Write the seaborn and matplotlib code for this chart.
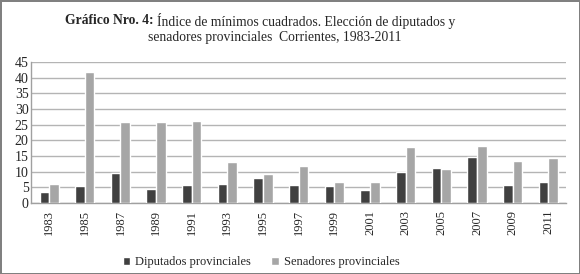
import numpy as np
import pandas as pd
import seaborn as sns
import matplotlib.pyplot as plt

years = ['1983', '1985', '1987', '1989', '1991', '1993', '1995', '1997',
         '1999', '2001', '2003', '2005', '2007', '2009', '2011']
diputados = [3.5, 5.3, 9.6, 4.6, 5.6, 6.2, 7.9, 5.9, 5.4, 4.3, 9.8, 11.3, 14.7, 5.6, 6.6]
senadores = [6.1, 41.8, 25.8, 25.8, 26.3, 13.2, 9.1, 11.7, 6.8, 6.6, 18.0, 10.7, 18.2, 13.5, 14.3]
series = ['Diputados provinciales', 'Senadores provinciales']

df = pd.DataFrame({'year': years * 2,
                   'value': diputados + senadores,
                   'serie': [series[0]] * len(years) + [series[1]] * len(years)})

sns.set_theme(style='white')
plt.rcParams['font.family'] = ['Liberation Serif', 'DejaVu Serif']

fig = plt.figure(figsize=(5.8, 2.74), dpi=100)
fig.patch.set_edgecolor('#808080')
fig.patch.set_linewidth(2)
ax = fig.add_axes([0.054, 0.259, 0.922, 0.515])

sns.barplot(data=df, x='year', y='value', hue='serie', palette=['#404040', '#a6a6a6'],
            width=0.54, gap=0, saturation=1, ax=ax, zorder=3)

ax.set_ylim(0, 45)
ax.set_yticks(range(0, 46, 5))
ax.set_xlim(-0.5, len(years) - 0.5)
ax.grid(axis='y', color='#b4b4b4', linewidth=1, zorder=0)
ax.set_xlabel('')
ax.set_ylabel('')
for s in ['top', 'right']:
    ax.spines[s].set_visible(False)
for s in ['left', 'bottom']:
    ax.spines[s].set_color('#a0a0a0')
    ax.spines[s].set_linewidth(1)
ax.tick_params(axis='x', rotation=90, labelsize=9, pad=5, length=0)
ax.tick_params(axis='y', labelsize=10, pad=2, length=0)

ax.legend(loc='center', bbox_to_anchor=(0.43, -0.42), ncol=2, frameon=False,
          fontsize=9, handlelength=0.6, handleheight=0.6, handletextpad=0.4,
          columnspacing=1.6)

# title: bold prefix followed by regular text, first line starts near x=65px
W, H = 580, 274
t_bold = fig.text(65 / W, 1 - 21 / H, 'Gráfico Nro. 4:', ha='left', va='center',
                  fontsize=9.8, fontweight='bold')
fig.canvas.draw()
bb = t_bold.get_window_extent()
fig.text((bb.x1 + 3) / W, 1 - 21 / H,
         'Índice de mínimos cuadrados. Elección de diputados y',
         ha='left', va='center', fontsize=9.8)
fig.text(275 / W, 1 - 38 / H, 'senadores provinciales  Corrientes, 1983-2011',
         ha='center', va='center', fontsize=9.8)

fig.savefig('out.png', dpi=100)
